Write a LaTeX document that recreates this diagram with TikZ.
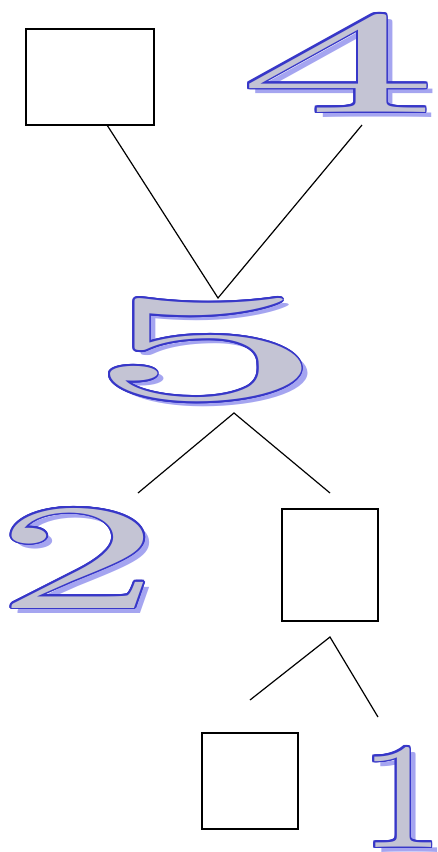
\documentclass[tikz,border=0pt]{standalone}
\usepackage{graphicx}
\definecolor{dblue}{RGB}{55,55,200}
\definecolor{sblue}{RGB}{165,165,240}
\definecolor{dfill}{RGB}{196,196,212}
\newcommand{\fancydigit}[6]{%
  \node[inner sep=0pt,text=sblue] at (#2pt+6pt,-#3pt-5pt) {\resizebox{#4pt}{#5pt}{#6}};
  \foreach \a in {0,22.5,...,337.5}
    \node[inner sep=0pt,text=dblue] at ([shift={(\a:1.8pt)}]#2pt,-#3pt) {\resizebox{#4pt}{#5pt}{#6}};
  \node[inner sep=0pt,text=dfill] (#1) at (#2pt,-#3pt) {\resizebox{#4pt}{#5pt}{#6}};
}
\tikzset{
  box/.style={draw=black,line width=1.3pt,inner sep=0pt,fill=white},
  conn/.style={line width=1.2pt,black}
}
\begin{document}
\begin{tikzpicture}
\useasboundingbox (0,0) rectangle (437pt,-852pt);
\node[box,minimum width=128pt,minimum height=96pt] (b1) at (90pt,-77pt) {};
\node[box,minimum width=96pt,minimum height=112pt] (b2) at (330pt,-565pt) {};
\node[box,minimum width=96pt,minimum height=96pt] (b3) at (250pt,-781pt) {};
\fancydigit{d4}{338}{63}{200}{98}{4}
\fancydigit{d5}{206}{350}{240}{100}{5}
\fancydigit{d2}{78}{558}{165}{100}{2}
\fancydigit{d1}{402}{797}{86}{100}{1}
\coordinate (t5) at (218pt,-298pt);
\coordinate (b1s) at (107pt,-125pt);
\coordinate (d4s) at (362pt,-125pt);
\coordinate (v5) at (234pt,-413pt);
\coordinate (l5) at (138pt,-493pt);
\coordinate (r5) at (330pt,-493pt);
\coordinate (v2) at (330pt,-637pt);
\coordinate (l2) at (250pt,-700pt);
\coordinate (r2) at (378pt,-717pt);
\draw[conn] (b1s) -- (t5) -- (d4s);
\draw[conn] (l5) -- (v5) -- (r5);
\draw[conn] (l2) -- (v2) -- (r2);
\end{tikzpicture}
\end{document}
